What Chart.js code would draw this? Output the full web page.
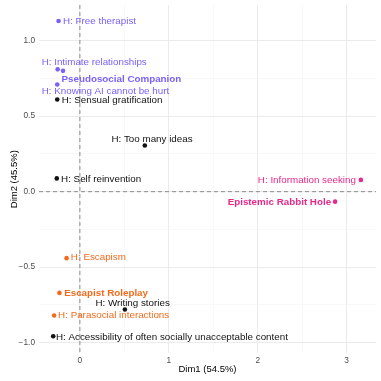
<!DOCTYPE html>
<html>
<head>
<meta charset="utf-8">
<script src="https://cdn.jsdelivr.net/npm/chart.js@4"></script>
<style>
  html, body { margin: 0; padding: 0; background: #fff; }
  #wrap { width: 381px; height: 381px; }
</style>
</head>
<body>
<div id="wrap"><canvas id="myChart" width="381" height="381"></canvas></div>
<script>
"use strict";

// category / habit labels and their coordinates on the two dimensions
const names = [
  "H: Free therapist",
  "H: Intimate relationships",
  "Pseudosocial Companion",
  "H: Knowing AI cannot be hurt",
  "H: Sensual gratification",
  "H: Too many ideas",
  "H: Self reinvention",
  "H: Information seeking",
  "Epistemic Rabbit Hole",
  "H: Escapism",
  "Escapist Roleplay",
  "H: Writing stories",
  "H: Parasocial interactions",
  "H: Accessibility of often socially unacceptable content"
];
const dim1 = [-0.24, -0.25, -0.19, -0.255, -0.255, 0.73, -0.26, 3.16, 2.87, -0.15, -0.23, 0.506, -0.29, -0.30];
const dim2 = [1.13, 0.81, 0.80, 0.71, 0.61, 0.306, 0.088, 0.078, -0.066, -0.44, -0.67, -0.78, -0.82, -0.957];
const groups = ["companion", "companion", "companion", "companion", "none", "none", "none",
                "rabbit", "rabbit", "escapist", "escapist", "none", "escapist", "none"];

const groupColors = {
  companion: "#7b61f8",
  rabbit: "#e7298a",
  escapist: "#f26b1d",
  none: "#111111"
};

// where each text sits relative to its point (px), like ggrepel did it
const labelPlace = [
  [4.5, 0, "left"], [-16, -7.5, "left"], [-1.5, 8, "left"], [-15.5, 7.3, "left"],
  [4.5, 0.3, "left"], [7.2, -6, "center"], [4.3, 1, "left"], [-5, 0.4, "right"],
  [-4, 0.3, "right"], [4.3, -1.3, "left"], [4.7, 0, "left"], [7.7, -6.7, "center"],
  [4, 0, "left"], [2.7, 0.7, "left"]
];

const FONT = "'Liberation Sans', Arial, Helvetica, sans-serif";

const points = dim1.map((x, i) => ({ x: x, y: dim2[i] }));
const colors = groups.map(g => groupColors[g]);

const zeroLines = {
  id: "zeroLines",
  beforeDatasetsDraw(chart) {
    const ctx = chart.ctx, a = chart.chartArea;
    const x0 = chart.scales.x.getPixelForValue(0);
    const y0 = chart.scales.y.getPixelForValue(0);
    ctx.save();
    ctx.strokeStyle = "#8c8c8c";
    ctx.lineWidth = 1;
    ctx.setLineDash([4, 3]);
    ctx.beginPath();
    ctx.moveTo(x0, a.top); ctx.lineTo(x0, a.bottom);
    ctx.moveTo(a.left, y0); ctx.lineTo(a.right, y0);
    ctx.stroke();
    ctx.restore();
  }
};

const pointLabels = {
  id: "pointLabels",
  afterDatasetsDraw(chart) {
    const ctx = chart.ctx;
    const meta = chart.getDatasetMeta(0);
    ctx.save();
    ctx.textBaseline = "middle";
    meta.data.forEach((el, i) => {
      const bold = !names[i].startsWith("H:");
      ctx.font = (bold ? "bold " : "") + "9.8px " + FONT;
      ctx.fillStyle = colors[i];
      ctx.textAlign = labelPlace[i][2];
      ctx.fillText(names[i], el.x + labelPlace[i][0], el.y + labelPlace[i][1]);
    });
    ctx.restore();
  }
};

function keepSteps(step) {
  return function(scale) {
    scale.ticks = scale.ticks.filter(t => Math.abs(t.value / step - Math.round(t.value / step)) < 1e-6);
  };
}

function onStep(v, step) {
  return Math.abs(v / step - Math.round(v / step)) < 1e-6;
}

function noOverflow(scale) {
  scale.paddingTop = 0; scale.paddingBottom = 0;
  scale.paddingLeft = 0; scale.paddingRight = 0;
}

new Chart(document.getElementById("myChart").getContext("2d"), {
  type: "scatter",
  data: {
    datasets: [{
      data: points,
      pointBackgroundColor: colors,
      pointBorderWidth: 0,
      pointRadius: 2.3,
      pointHoverRadius: 2.3
    }]
  },
  plugins: [zeroLines, pointLabels],
  options: {
    responsive: false,
    animation: false,
    layout: { padding: { top: 5, right: 5, left: 0, bottom: 0 } },
    plugins: { legend: { display: false }, tooltip: { enabled: false } },
    scales: {
      x: {
        type: "linear",
        min: -0.46,
        max: 3.33,
        afterBuildTicks: keepSteps(0.5),
        afterFit(scale) { scale.height = 27.7; noOverflow(scale); },
        border: { display: false },
        grid: {
          drawTicks: false,
          color: ctx => (onStep(ctx.tick.value, 1) ? "#ebebeb" : "#f4f4f4"),
          lineWidth: ctx => (onStep(ctx.tick.value, 1) ? 1 : 0.6)
        },
        ticks: {
          stepSize: 0.5,
          padding: 2,
          color: "#4d4d4d",
          font: { family: FONT, size: 8.3 },
          callback: v => (onStep(v, 1) ? String(Math.round(v)) : "")
        },
        title: {
          display: true,
          text: "Dim1 (54.5%)",
          color: "#000",
          font: { family: FONT, size: 9.5 },
          padding: { top: 0, bottom: 6 }
        }
      },
      y: {
        type: "linear",
        min: -1.07,
        max: 1.236,
        afterBuildTicks: keepSteps(0.25),
        afterFit(scale) { scale.width = 39; noOverflow(scale); },
        border: { display: false },
        grid: {
          drawTicks: false,
          color: ctx => (onStep(ctx.tick.value, 0.5) ? "#ebebeb" : "#f4f4f4"),
          lineWidth: ctx => (onStep(ctx.tick.value, 0.5) ? 1 : 0.6)
        },
        ticks: {
          stepSize: 0.25,
          padding: 4,
          color: "#4d4d4d",
          font: { family: FONT, size: 8.3 },
          callback: v => (onStep(v, 0.5) ? v.toFixed(1).replace("-", "\u2212") : "")
        },
        title: {
          display: true,
          text: "Dim2 (45.5%)",
          color: "#000",
          font: { family: FONT, size: 9.5 },
          padding: { top: 9, bottom: 0 }
        }
      }
    }
  }
});
</script>
</body>
</html>
